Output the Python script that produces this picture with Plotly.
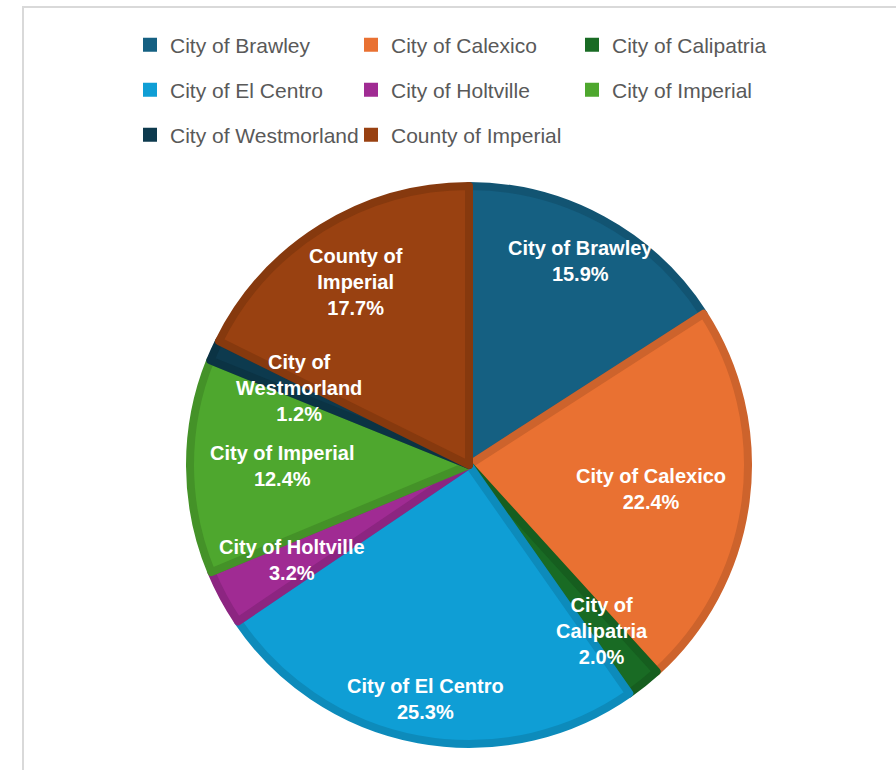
import plotly.graph_objects as go
import math

# ---- data ----
labels = ["City of Brawley", "City of Calexico", "City of Calipatria", "City of El Centro",
          "City of Holtville", "City of Imperial", "City of Westmorland", "County of Imperial"]
values = [15.9, 22.4, 2.0, 25.3, 3.2, 12.4, 1.2, 17.7]
label_text = ["City of Brawley", "City of Calexico", "City of<br>Calipatria", "City of El Centro",
              "City of Holtville", "City of Imperial", "City of<br>Westmorland", "County of<br>Imperial"]

# ---- style ----
colors = ["#156082", "#E97132", "#196B24", "#0F9ED5", "#A02B93", "#4EA72E", "#0D3A4E", "#994111"]
label_radius = [0.82, 0.65, 0.75, 0.84, 0.71, 0.66, 0.66, 0.76]


def darker(hexc, f=0.88):
    h = hexc.lstrip("#")
    r, g, b = (int(h[i:i + 2], 16) for i in (0, 2, 4))
    return "#%02x%02x%02x" % (int(r * f), int(g * f), int(b * f))


border = [darker(c) for c in colors]

W, H = 896, 770
cx, cy = 469, 465          # pie centre in px (from top)
line_w = 8
R = 283 - line_w / 2       # radius of pie path

dom_x = [(cx - R) / W, (cx + R) / W]
dom_y = [(H - cy - R) / H, (H - cy + R) / H]

fig = go.Figure()
fig.add_trace(go.Pie(
    labels=labels, values=values, sort=False, direction="clockwise", rotation=0,
    marker=dict(colors=colors, line=dict(color=border, width=line_w)),
    textinfo="none", hoverinfo="label+percent", showlegend=False,
    domain=dict(x=dom_x, y=dom_y),
))

# legend via proxy entries split in three rows
legend_names = ["legend", "legend2", "legend3"]
for i, (lab, col) in enumerate(zip(labels, colors)):
    fig.add_trace(go.Scatter(
        x=[None], y=[None], mode="markers", name=lab,
        marker=dict(symbol="square", size=14, color=col, line=dict(width=0)),
        legend=legend_names[i // 3], showlegend=True,
    ))

# slice labels placed at slice mid-angles
total = sum(values)
cum = 0.0
annotations = []
for v, t, rf in zip(values, label_text, label_radius):
    theta = (cum + v / 2) / total * 2 * math.pi
    cum += v
    px = cx + rf * 283 * math.sin(theta)
    py = cy - rf * 283 * math.cos(theta)
    annotations.append(dict(
        x=px / W, y=(H - py) / H, xref="paper", yref="paper",
        text=f"{t}<br>{v:.1f}%", showarrow=False,
        font=dict(family="Liberation Sans, Arial, sans-serif", size=20, color="white", weight="bold"),
        align="center", xanchor="center", yanchor="middle",
    ))

legend_common = dict(
    orientation="h", xanchor="left", yanchor="middle",
    font=dict(family="Liberation Sans, Arial, sans-serif", size=21, color="#595959"),
    entrywidth=176, entrywidthmode="pixels", bgcolor="rgba(0,0,0,0)",
    itemclick=False, itemdoubleclick=False,
)
lx = 130 / W
rows_y = [45, 90, 135]

fig.update_layout(
    width=W, height=H,
    margin=dict(l=0, r=0, t=0, b=0),
    paper_bgcolor="white", plot_bgcolor="white",
    xaxis=dict(visible=False), yaxis=dict(visible=False),
    legend=dict(x=lx, y=1 - rows_y[0] / H, **legend_common),
    legend2=dict(x=lx, y=1 - rows_y[1] / H, **legend_common),
    legend3=dict(x=lx, y=1 - rows_y[2] / H, **legend_common),
    annotations=annotations,
    shapes=[dict(type="rect", xref="paper", yref="paper",
                 x0=23 / W, x1=1.2, y0=-0.2, y1=1 - 7 / H,
                 line=dict(color="#d9d9d9", width=2), layer="below")],
)

fig.write_html("out.html", config={"displayModeBar": False},
               post_script="document.body.style.margin='0';document.body.style.overflow='hidden';")
